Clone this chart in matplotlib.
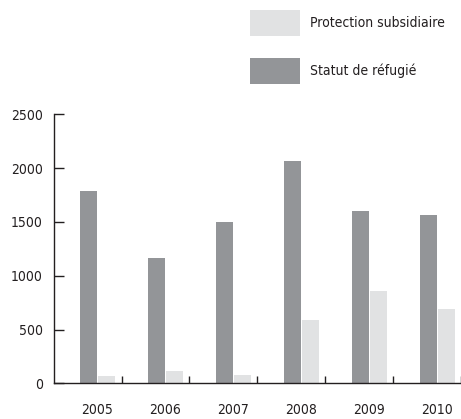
import numpy as np
import matplotlib.pyplot as plt

years = ['2005', '2006', '2007', '2008', '2009', '2010']
statut_refugie = [1790, 1165, 1500, 2065, 1600, 1565]
protection_subsidiaire = [68, 114, 77, 588, 858, 690]

dark = '#939598'
light = '#e1e2e3'

plt.rcParams['font.family'] = 'DejaVu Sans'
plt.rcParams['font.stretch'] = 'condensed'

fig = plt.figure(figsize=(4.61, 4.19), dpi=100)
ax = fig.add_axes([0.1171, 0.0852, 0.8829, 0.642])

x = np.arange(len(years))
w = 0.25
ax.bar(x - w / 2, statut_refugie, width=w, color=dark, label='Statut de réfugié')
ax.bar(x + w / 2 + 0.015, protection_subsidiaire, width=w, color=light,
       label='Protection subsidiaire')

ax.set_xlim(-0.64, 5.35)
ax.set_ylim(0, 2500)
ax.set_yticks([0, 500, 1000, 1500, 2000, 2500])
ax.set_xticks(x)
ax.set_xticklabels(years)
ax.set_xticks(x + 0.355, minor=True)

for s in ['top', 'right']:
    ax.spines[s].set_visible(False)
for s in ['left', 'bottom']:
    ax.spines[s].set_linewidth(1.0)
    ax.spines[s].set_color('#231f20')

ax.tick_params(axis='y', direction='in', length=7, width=1, pad=8,
               labelsize=10, colors='#231f20')
ax.tick_params(axis='x', which='major', length=0, pad=14, labelsize=10,
               colors='#231f20')
ax.tick_params(axis='x', which='minor', direction='in', length=5, width=1,
               colors='#231f20')

handles, labels = ax.get_legend_handles_labels()
fig.legend(handles[::-1], labels[::-1], loc='upper left',
           bbox_to_anchor=(250 / 461, 1 - 10 / 419), frameon=False,
           borderpad=0, borderaxespad=0, fontsize=10, handlelength=3.6,
           handleheight=2.5, labelspacing=1.58, handletextpad=0.72,
           labelcolor='#231f20')

fig.savefig('out.png', dpi=100)
